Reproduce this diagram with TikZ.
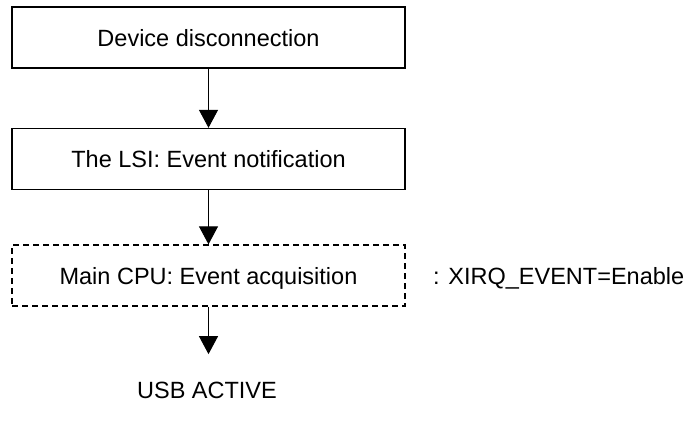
\documentclass[tikz,border=0pt]{standalone}
\usepackage{fontspec}
\setmainfont{Liberation Sans}
\usetikzlibrary{arrows.meta}

\begin{document}
\begin{tikzpicture}[x=1pt, y=-1pt,
  font=\fontsize{23.5}{28}\selectfont,
  stepbox/.style={draw, line width=1.3pt, minimum width=393pt, minimum height=61pt,
    text height=17pt, text depth=0pt, inner sep=0pt},
  optbox/.style={stepbox, line width=1.3pt, dash pattern=on 6pt off 4pt},
  flow/.style={-{Triangle[length=18pt, width=19pt]}, line width=1pt}]
  \useasboundingbox (0,0) rectangle (687,423);
  % Steps
  \node[stepbox] (disc) at (208.5,37.5) {Device disconnection};
  \node[stepbox] (notif) at (208.5,159) {The LSI: Event notification};
  \node[optbox] (acq) at (208.5,275.5) {Main CPU: Event acquisition};
  \node[anchor=base west, inner sep=0pt] (irq) at (433,284) {: XIRQ\_EVENT=Enable};
  \node (usb) at (207,390) {USB ACTIVE};
  % Connectors
  \draw[flow] (disc) -- (notif);
  \draw[flow] (notif) -- (acq);
  \draw[flow, shorten >=24pt] (acq.south) -- (acq.south |- usb.north);
\end{tikzpicture}
\end{document}
